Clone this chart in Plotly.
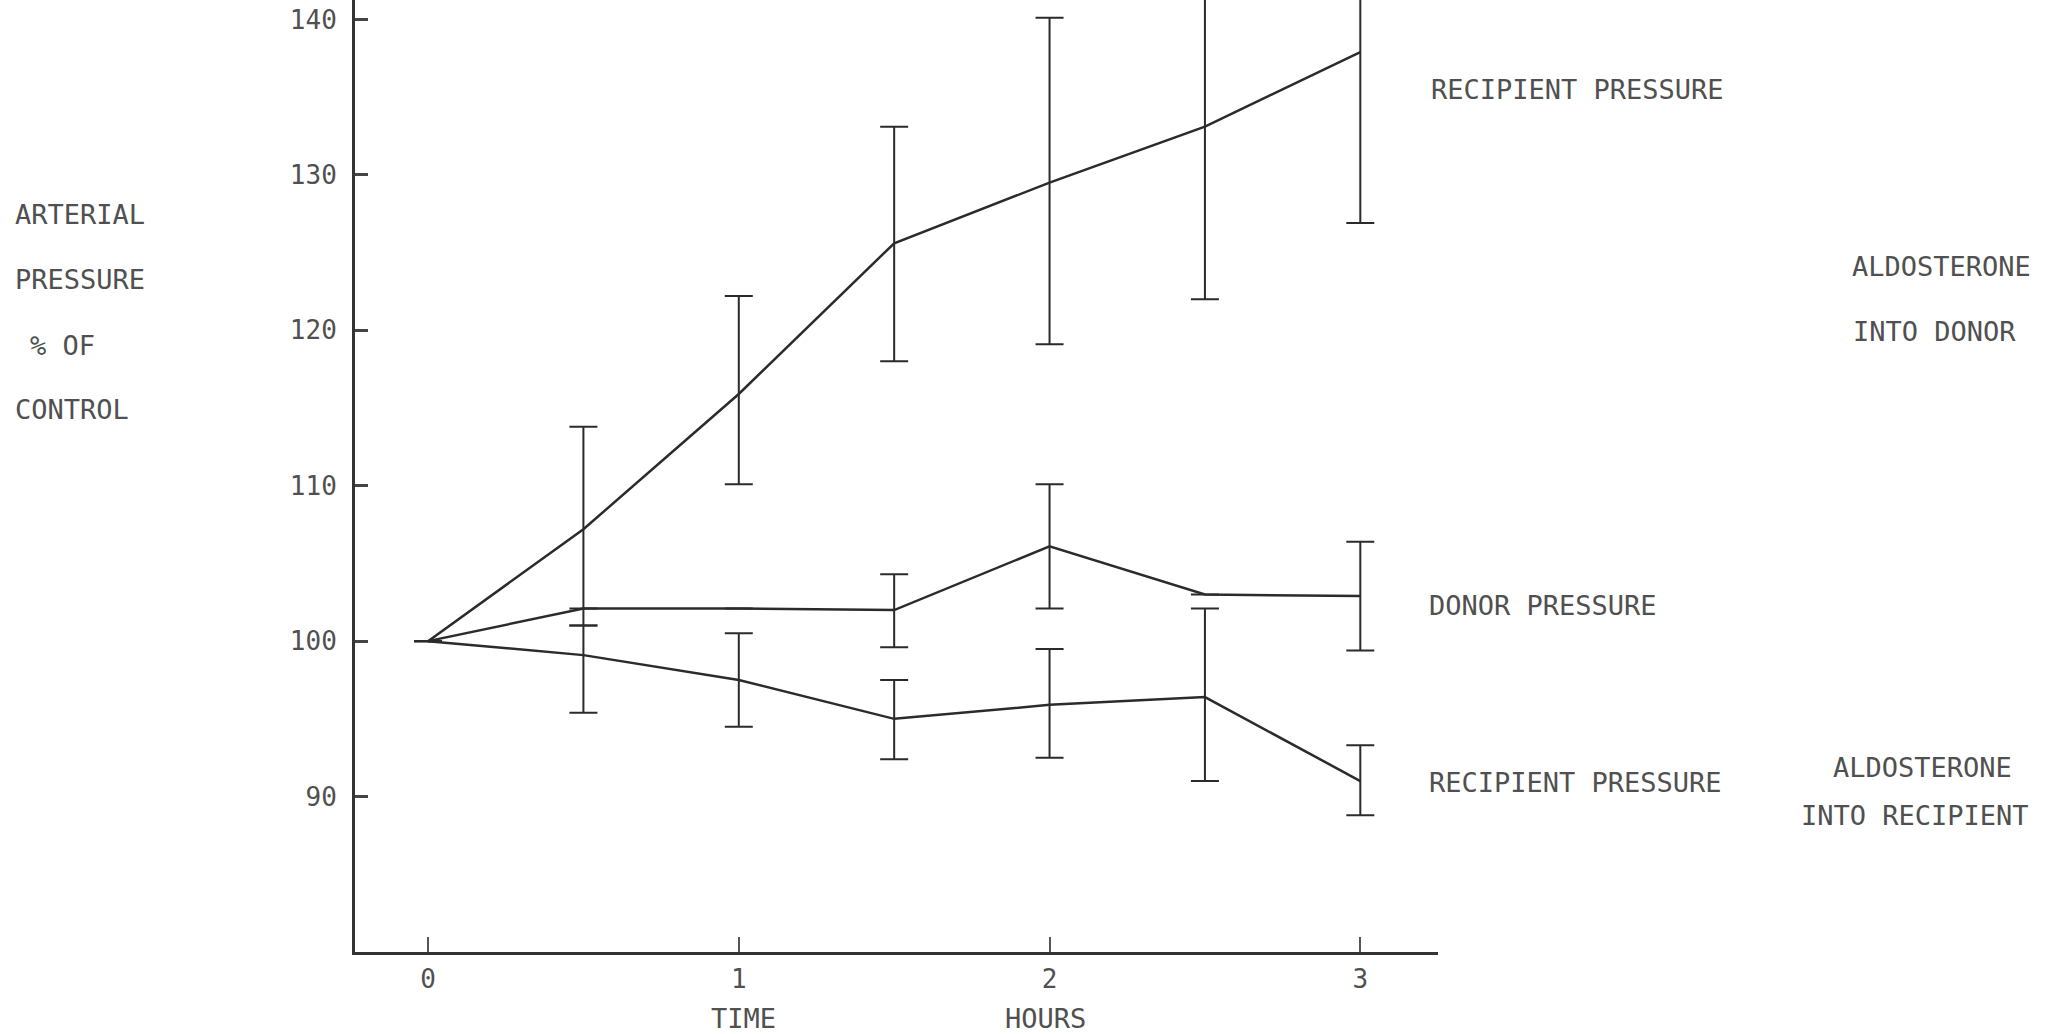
import plotly.graph_objects as go

# ---- data ----
time_h = [0, 0.5, 1, 1.5, 2, 2.5, 3]

recip_donor_inf = [100, 107.2, 115.9, 125.6, 129.5, 133.1, 137.9]
recip_donor_inf_hi = [None, 113.8, 122.2, 133.1, 140.1, 144.2, 148.9]
recip_donor_inf_lo = [None, 101.0, 110.1, 118.0, 119.1, 122.0, 126.9]

donor_press = [100, 102.1, 102.1, 102.0, 106.1, 103.0, 102.9]
donor_press_hi = [None, None, None, 104.3, 110.1, None, 106.4]
donor_press_lo = [None, None, None, 99.6, 102.1, None, 99.4]

recip_recip_inf = [100, 99.1, 97.5, 95.0, 95.9, 96.4, 91.0]
recip_recip_inf_hi = [None, 101.0, 100.5, 97.5, 99.5, 102.1, 93.3]
recip_recip_inf_lo = [None, 95.4, 94.5, 92.4, 92.5, 91.0, 88.8]

x_ticks = [0, 1, 2, 3]
y_ticks = [90, 100, 110, 120, 130, 140]

# ---- styling ----
W, H = 2055, 1034
ML, MR, MT, MB = 355, 617, 0, 82
FONT = "DejaVu Sans Mono"
TXT = "#505050"
LINE = "#2b2b2b"


def errs(vals, hi, lo):
    up = [None if h is None else h - v for v, h in zip(vals, hi)]
    dn = [None if l is None else v - l for v, l in zip(vals, lo)]
    return up, dn


fig = go.Figure()
for vals, hi, lo in [
    (recip_donor_inf, recip_donor_inf_hi, recip_donor_inf_lo),
    (donor_press, donor_press_hi, donor_press_lo),
    (recip_recip_inf, recip_recip_inf_hi, recip_recip_inf_lo),
]:
    up, dn = errs(vals, hi, lo)
    fig.add_trace(go.Scatter(
        x=time_h, y=vals, mode="lines",
        line=dict(color=LINE, width=2.5),
        error_y=dict(type="data", symmetric=False, array=up, arrayminus=dn,
                     color=LINE, thickness=2, width=14),
        showlegend=False, hoverinfo="skip",
    ))

pw = W - ML - MR
ph = H - MT - MB


def px(x):
    return (x - ML) / pw


def py(y):
    return (H - MB - y) / ph


labels = [
    ("RECIPIENT PRESSURE", 1429, 89, "left"),
    ("DONOR PRESSURE", 1427, 605, "left"),
    ("RECIPIENT PRESSURE", 1427, 782, "left"),
    ("ALDOSTERONE", 1850, 266, "left"),
    ("INTO DONOR", 1851, 331, "left"),
    ("ALDOSTERONE", 1922, 767, "center"),
    ("INTO RECIPIENT", 1915, 815, "center"),
    ("ARTERIAL", 13, 215, "left"),
    ("PRESSURE", 13, 280, "left"),
    ("% OF", 28, 345, "left"),
    ("CONTROL", 13, 409, "left"),
    ("TIME", 743, 1018, "center"),
    ("HOURS", 1045, 1018, "center"),
]
for t, x, y, anc in labels:
    fig.add_annotation(text=t, xref="paper", yref="paper", x=px(x), y=py(y),
                       xanchor=anc, yanchor="middle", showarrow=False,
                       font=dict(family=FONT, size=27, color=TXT))

fig.update_layout(
    width=W, height=H, autosize=False,
    margin=dict(l=ML, r=MR, t=MT, b=MB, pad=0),
    paper_bgcolor="white", plot_bgcolor="white",
    showlegend=False,
    xaxis=dict(range=[-0.235, 3.25], tickvals=x_ticks, ticktext=[str(v) for v in x_ticks],
               ticks="inside", ticklen=15, tickwidth=1.5, tickcolor="#555",
               showline=True, linewidth=3, linecolor="#333", showgrid=False, zeroline=False,
               tickfont=dict(family=FONT, size=26, color=TXT), ticklabelstandoff=2),
    yaxis=dict(range=[80, 141.25], tickvals=y_ticks, ticktext=[str(v) for v in y_ticks],
               ticks="inside", ticklen=13, tickwidth=2.5, tickcolor="#444",
               showline=True, linewidth=3, linecolor="#333", showgrid=False, zeroline=False,
               tickfont=dict(family=FONT, size=26, color=TXT), ticklabelstandoff=10),
)

fig.write_html(
    "out.html",
    config={"displayModeBar": False},
    post_script="document.body.style.margin='0';document.body.style.overflow='hidden';",
)
